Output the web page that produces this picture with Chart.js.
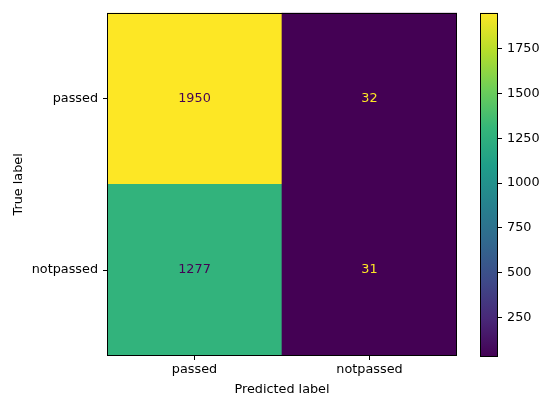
<!DOCTYPE html>
<html>
<head>
<meta charset="utf-8">
<script src="https://cdn.jsdelivr.net/npm/chart.js@4"></script>
<style>
  body { margin: 0; background: #fff; }
  #wrap { position: relative; width: 542px; height: 396px; }
  #matrix { position: absolute; left: 0; top: 0; }
  #cbar { position: absolute; left: 470px; top: 0; }
</style>
</head>
<body>
<div id="wrap">
  <canvas id="matrix" width="470" height="396"></canvas>
  <canvas id="cbar" width="72" height="396"></canvas>
</div>
<script>
const predLabels = ['passed', 'notpassed']
const trueLabels = ['passed', 'notpassed']
const rowPassed = [1950, 32]
const rowNotPassed = [1277, 31]
const cbarTicks = [250, 500, 750, 1000, 1250, 1500, 1750]

const allCounts = rowPassed.concat(rowNotPassed)
const vmin = Math.min(...allCounts)
const vmax = Math.max(...allCounts)

Chart.defaults.font.family = 'DejaVu Sans'
Chart.defaults.font.size = 12.8
Chart.defaults.color = '#000'

// viridis sampled at 10 points
const viridisStops = ['#440154', '#482878', '#3e4a89', '#31688e', '#26828e',
                      '#1f9e89', '#35b779', '#6ece58', '#b5de2b', '#fde725']

function hexToRgb(h) {
    return [1, 3, 5].map(i => parseInt(h.substr(i, 2), 16))
}

function viridis(t) {
    t = Math.max(0, Math.min(1, t))
    const pos = t * (viridisStops.length - 1)
    const i = Math.min(Math.floor(pos), viridisStops.length - 2)
    const f = pos - i
    const a = hexToRgb(viridisStops[i])
    const b = hexToRgb(viridisStops[i + 1])
    const c = a.map((v, k) => Math.round(v + (b[k] - v) * f))
    return 'rgb(' + c.join(',') + ')'
}

const norm = v => (v - vmin) / (vmax - vmin)

// black frame around the plot area
const framePlugin = {
    id: 'frame',
    afterDraw(chart) {
        const { ctx, chartArea: a } = chart
        ctx.save()
        ctx.strokeStyle = '#000'
        ctx.lineWidth = 1
        ctx.strokeRect(Math.round(a.left) + 0.5, Math.round(a.top) + 0.5,
            Math.round(a.right - a.left) - 1, Math.round(a.bottom - a.top) - 1)
        ctx.restore()
    }
}

// counts written in the middle of each cell
const cellText = {
    id: 'cellText',
    afterDatasetsDraw(chart) {
        const ctx = chart.ctx
        const thresh = (vmax + vmin) / 2
        ctx.save()
        ctx.font = '12.8px "DejaVu Sans"'
        ctx.textAlign = 'center'
        ctx.textBaseline = 'middle'
        chart.data.datasets.forEach((ds, di) => {
            chart.getDatasetMeta(di).data.forEach((el, i) => {
                const v = ds.counts[i]
                const p = el.getCenterPoint()
                ctx.fillStyle = v > thresh ? viridis(0) : viridis(1)
                ctx.fillText(String(v), p.x, p.y)
            })
        })
        ctx.restore()
    }
}

new Chart(document.getElementById('matrix').getContext('2d'), {
    type: 'bar',
    data: {
        labels: predLabels,
        datasets: [
            { counts: rowNotPassed, data: rowNotPassed.map(() => 1),
              backgroundColor: rowNotPassed.map(v => viridis(norm(v))) },
            { counts: rowPassed, data: rowPassed.map(() => 1),
              backgroundColor: rowPassed.map(v => viridis(norm(v))) }
        ]
    },
    options: {
        responsive: false,
        animation: false,
        barPercentage: 1,
        categoryPercentage: 1,
        borderWidth: 0,
        layout: { padding: { left: 0, top: 7, right: 13, bottom: 0 } },
        plugins: { legend: { display: false }, tooltip: { enabled: false } },
        scales: {
            x: {
                stacked: true,
                grid: { offset: false, drawOnChartArea: false, color: '#000', tickLength: 4 },
                border: { display: false },
                ticks: { padding: 2, font: { lineHeight: 1.2 } },
                title: { display: true, text: 'Predicted label', padding: 0, font: { lineHeight: 1 } },
                afterFit: s => { s.height = 40 }
            },
            y: {
                stacked: true,
                min: 0,
                max: trueLabels.length,
                grid: { drawOnChartArea: false, color: '#000', tickLength: 4 },
                border: { display: false },
                ticks: {
                    padding: 5,
                    callback: v => trueLabels[trueLabels.length - 1 - Math.floor(v)]
                },
                afterBuildTicks: s => {
                    s.ticks = trueLabels.map((l, i) => ({ value: trueLabels.length - i - 0.5 }))
                },
                title: { display: true, text: 'True label', padding: { top: 11, bottom: 0 } },
                afterFit: s => { s.width = 107 }
            }
        }
    },
    plugins: [cellText, framePlugin]
})

new Chart(document.getElementById('cbar').getContext('2d'), {
    type: 'bar',
    data: {
        labels: [''],
        datasets: [{
            data: [[vmin, vmax]],
            backgroundColor: ctx => {
                const a = ctx.chart.chartArea
                if (!a) return viridis(0.5)
                const g = ctx.chart.ctx.createLinearGradient(0, a.bottom, 0, a.top)
                viridisStops.forEach((c, i) => g.addColorStop(i / (viridisStops.length - 1), c))
                return g
            }
        }]
    },
    options: {
        responsive: false,
        animation: false,
        barPercentage: 1,
        categoryPercentage: 1,
        borderWidth: 0,
        layout: { padding: { left: 10, top: 7, right: 0, bottom: 39 } },
        plugins: { legend: { display: false }, tooltip: { enabled: false } },
        scales: {
            x: { display: false },
            y: {
                position: 'right',
                min: vmin,
                max: vmax,
                grid: { drawOnChartArea: false, color: '#000', tickLength: 4 },
                border: { display: false },
                ticks: { padding: 5, callback: v => String(v) },
                afterBuildTicks: s => { s.ticks = cbarTicks.map(v => ({ value: v })) },
                afterFit: s => { s.width = 44 }
            }
        }
    },
    plugins: [framePlugin]
})
</script>
</body>
</html>
